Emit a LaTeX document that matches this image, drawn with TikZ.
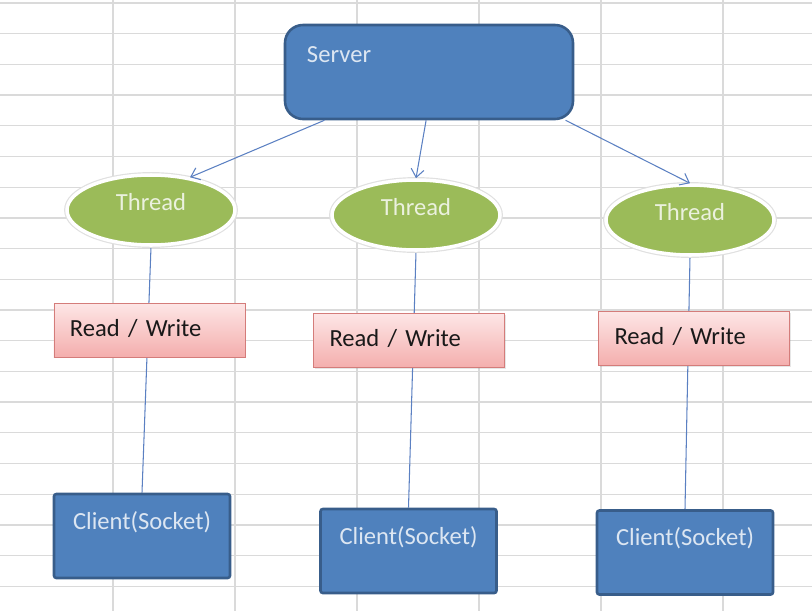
\documentclass[tikz,border=0pt]{standalone}
\usepackage{fontspec}
\setmainfont{Carlito}
\usetikzlibrary{positioning,arrows.meta,shapes.geometric,calc,backgrounds,shadows}
\definecolor{srvblue}{HTML}{4F81BD}
\definecolor{srvline}{HTML}{385D8A}
\definecolor{srvtext}{HTML}{DCE6F2}
\definecolor{thrgreen}{HTML}{9BBB59}
\definecolor{thrtext}{HTML}{EBF1DE}
\definecolor{rwtop}{HTML}{FDE6E6}
\definecolor{rwbottom}{HTML}{F4AEAD}
\definecolor{rwline}{HTML}{D47C7A}
\definecolor{linkblue}{HTML}{5B80C2}
\definecolor{gridgray}{HTML}{DADADA}

\begin{document}
\begin{tikzpicture}[x=0.03cm,y=-0.03cm,
  font=\fontsize{21}{25}\selectfont,
  server/.style={rectangle,rounded corners=0.54cm,fill=srvblue,draw=srvline,line width=2.2pt,text=srvtext,
    text width=7.32cm,align=left,inner xsep=0.66cm,inner ysep=0pt,text height=1.11cm,text depth=1.71cm},
  thread/.style={ellipse,fill=thrgreen,draw=white,line width=3pt,preaction={draw=black!12,line width=5pt},
    minimum width=5.04cm,minimum height=2.1cm,inner sep=0pt,text=thrtext,text height=0.47cm,text depth=0.47cm},
  rw/.style={rectangle,top color=rwtop,bottom color=rwbottom,draw=rwline,line width=0.8pt,
    drop shadow={opacity=0.2,shadow xshift=1.2pt,shadow yshift=-1.2pt},
    text width=4.77cm,inner xsep=0.48cm,align=left,minimum height=1.62cm,text height=0.44cm,text depth=0.06cm,text=black!90},
  client/.style={rectangle,rounded corners=2pt,fill=srvblue,draw=srvline,line width=2.2pt,text=srvtext,
    text width=5.28cm,align=center,inner sep=0pt,text height=1.05cm,text depth=1.47cm},
  link/.style={line width=0.9pt,linkblue},
  arr/.style={link,-{Straight Barb[length=7pt,width=11pt]}},
]
\useasboundingbox (0,0) rectangle (812,611);

% Server
\node[server] (server) at (429,72) {Server};

% Threads
\node[thread] (thread1) at (151,210) {Thread};
\node[thread] (thread2) at (416,215) {Thread};
\node[thread] (thread3) at (690,220) {Thread};

% Read / Write
\node[rw] (rw1) at (149.5,330) {Read / Write};
\node[rw] (rw2) at (409,340.5) {Read / Write};
\node[rw] (rw3) at (694,338.5) {Read / Write};

% Clients
\node[client] (client1) at (142,536) {Client(Socket)};
\node[client] (client2) at (408.5,551) {Client(Socket)};
\node[client] (client3) at (685,552.5) {Client(Socket)};

% Server to threads
\draw[arr] ($(server.south west)!0.14!(server.south east)$) -- (thread1.40);
\draw[arr] ($(server.south west)!0.49!(server.south east)$) -- (thread2.north);
\draw[arr] ($(server.south west)!0.97!(server.south east)$) -- (thread3.north);

\begin{scope}[on background layer]
  % sheet grid
  \foreach \k in {0,...,19}
    \draw[gridgray,line width=1.1pt] (0,3+30.7*\k) -- (812,3+30.7*\k);
  \foreach \k in {0,...,5}
    \draw[gridgray,line width=1.1pt] (113+122*\k,0) -- (113+122*\k,611);
  % thread to client, behind the read / write boxes
  \draw[link] (thread1.south) -- (client1.north);
  \draw[link] (thread2.south) -- (client2.north);
  \draw[link] (thread3.south) -- (client3.north);
\end{scope}
\end{tikzpicture}
\end{document}
